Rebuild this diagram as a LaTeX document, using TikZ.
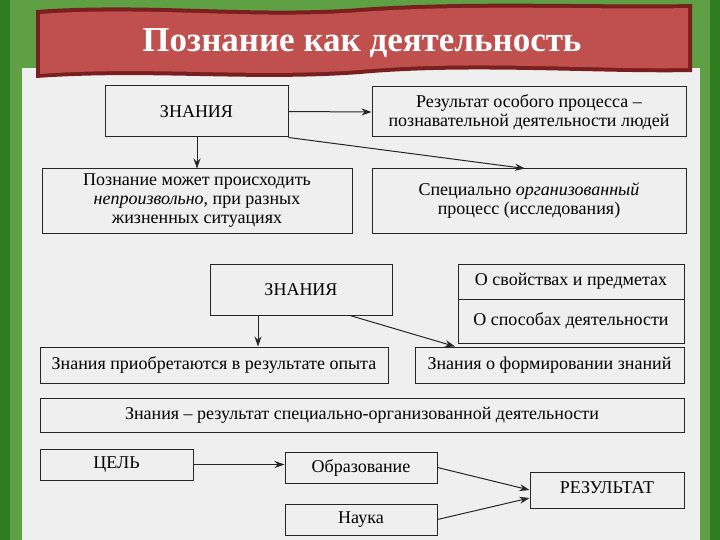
\documentclass[tikz,border=0pt]{standalone}
\usepackage{fontspec}
\setmainfont{Liberation Serif}
\usetikzlibrary{arrows.meta}
\definecolor{grn}{HTML}{2E7D1E}
\definecolor{lgrn}{HTML}{7FB85E}
\definecolor{banner}{HTML}{C0504D}
\definecolor{bdark}{HTML}{7A1F1F}
\definecolor{panel}{HTML}{EFEFEF}
\tikzset{
 bx/.style={draw=black!85,line width=1pt,fill=panel,inner sep=0pt,font=\fontsize{18}{19}\selectfont,align=center},
 ar/.style={draw=black!85,line width=1pt,-{Stealth[length=10pt,width=7pt]}}
}
\newcommand{\bxat}[6]{\node[bx,minimum width=#4-#2,minimum height=#5-#3] (#1) at ({(#2+#4)/2},{(#3+#5)/2+2}) {#6};}
\begin{document}
\begin{tikzpicture}[x=1pt,y=-1pt]
\useasboundingbox (0,0) rectangle (720,540);
\fill[grn] (0,0) rectangle (720,540);
\fill[lgrn!60!grn] (10,0) rectangle (710,540);
\fill[panel] (22,68) rectangle (700,540);
% banner
\fill[bdark] (36,10) .. controls (150,2) and (250,16) .. (360,8) .. controls (470,0) and (600,6) .. (692,4) -- (692,72) .. controls (600,74) and (470,64) .. (360,74) .. controls (250,82) and (150,70) .. (36,78) -- cycle;
\fill[banner] (40,14) .. controls (150,6) and (250,20) .. (360,12) .. controls (470,4) and (600,10) .. (688,8) -- (688,68) .. controls (600,70) and (470,60) .. (360,70) .. controls (250,78) and (150,66) .. (40,74) -- cycle;
\node[text=white,font=\fontsize{35}{36}\selectfont\bfseries] (title) at (362,43) {Познание как деятельность};
\bxat{z1}{105}{84}{288}{135}{ЗНАНИЯ}
\bxat{r1}{372}{85}{686}{135}{Результат особого процесса –\\познавательной деятельности людей}
\bxat{p1}{42}{167}{352}{231}{Познание может происходить\\\textit{непроизвольно}, при разных\\жизненных ситуациях}
\bxat{s1}{372}{167}{686}{231}{Специально \textit{организованный}\\процесс (исследования)}
\bxat{z2}{210}{262}{392}{313}{ЗНАНИЯ}
\bxat{o1}{458}{262}{684}{297}{О свойствах и предметах}
\bxat{o2}{458}{297}{684}{341}{О способах деятельности}
\bxat{k1}{40}{345}{388}{381}{Знания приобретаются в результате опыта}
\bxat{k2}{415}{345}{684}{381}{Знания о формировании знаний}
\bxat{k3}{40}{396}{684}{430}{Знания – результат специально-организованной деятельности}
\bxat{c}{40}{447}{193}{478}{ЦЕЛЬ\strut}
\bxat{ob}{285}{450}{437}{481}{Образование}
\bxat{na}{285}{502}{437}{533}{Наука}
\bxat{rs}{530}{470}{684}{506}{РЕЗУЛЬТАТ\strut}
\draw[ar] (z1.east) -- (r1.west);
\draw[ar] (z1.south -| 197,0) -- (p1.north -| 197,0);
\draw[ar] (z1.south east) -- (s1.north -| 525,0);
\draw[ar] (z2.south -| 258,0) -- (k1.north -| 258,0);
\draw[ar] (z2.south -| 350,0) -- (k2.north -| 455,0);
\draw[ar] (c.east) -- (ob.west |- c.east);
\draw[ar] (ob.east) -- (rs.west |- 0,490);
\draw[ar] (na.east) -- (rs.west |- 0,498);
\end{tikzpicture}
\end{document}
